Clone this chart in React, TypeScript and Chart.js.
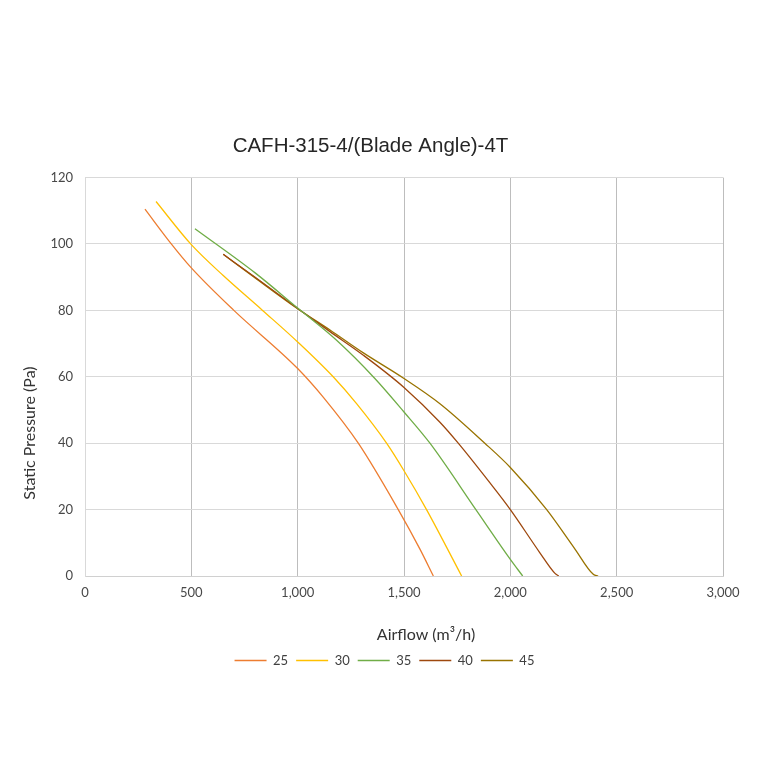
import { useEffect, useRef } from "react";
import { Chart, registerables } from "chart.js";

Chart.register(...registerables);

const seriesLabels = ["25", "30", "35", "40", "45"];
const seriesColors = ["#ED7D31", "#FFC000", "#70AD47", "#9E480E", "#997300"];

const airflow25 = [282, 400, 500, 700, 1000, 1121, 1285, 1473, 1575, 1638];
const pressure25 = [110.5, 100.5, 92.8, 80, 62.5, 53.8, 40, 20, 8.1, 0];

const airflow30 = [334, 500, 650, 835, 1000, 1167, 1277, 1418, 1500, 1606, 1771];
const pressure30 = [112.8, 99.8, 90.5, 80, 70.5, 60, 51.9, 40, 31.7, 20, 0];

const airflow35 = [517, 800, 1000, 1183, 1363, 1500, 1622, 1838, 2000, 2058];
const pressure35 = [104.6, 91.3, 80.7, 71, 59.5, 49.4, 40, 20, 5, 0];

const airflow40 = [650, 800, 1000, 1152, 1309, 1500, 1669, 1755, 1896, 2000, 2139, 2210, 2228];
const pressure40 = [96.9, 90, 80.6, 73.6, 66.5, 56.8, 46.3, 40, 28.7, 20, 7, 0.8, 0];

const airflow45 = [650, 800, 1000, 1152, 1309, 1500, 1669, 1880, 2000, 2171, 2300, 2390, 2413];
const pressure45 = [96.9, 89.8, 80.5, 74.1, 67.2, 59.5, 51.9, 40, 32.7, 20, 8.5, 0.5, 0];

const airflowSeries = [airflow25, airflow30, airflow35, airflow40, airflow45];
const pressureSeries = [pressure25, pressure30, pressure35, pressure40, pressure45];

const xTitle = "Airflow (m³/h)";
const yTitle = "Static Pressure (Pa)";

const tickFont = { family: "Lato", size: 13 };
const axisTitleFont = "16px Lato";

// Excel puts the axis titles and legend a bit off-centre, so draw/shift them by hand
const offsetPlugin = {
  id: "excelOffsets",
  afterLayout(chart: any) {
    if (chart.legend) {
      chart.legend.left += 14;
      chart.legend.right += 14;
    }
  },
  afterDraw(chart: any) {
    const { ctx } = chart;
    ctx.save();
    ctx.fillStyle = "#333";
    ctx.font = axisTitleFont;
    ctx.textAlign = "center";
    ctx.textBaseline = "middle";
    ctx.fillText(xTitle, 426, 635);
    ctx.translate(30, 433);
    ctx.rotate(-Math.PI / 2);
    ctx.fillText(yTitle, 0, 0);
    ctx.restore();
  },
};

export default function App() {
  const chartRef = useRef<HTMLCanvasElement>(null);

  useEffect(() => {
    document.body.style.margin = "0";
    if (!chartRef.current) return;

    const datasets = seriesLabels.map((label, i) => ({
      label,
      data: airflowSeries[i].map((x, j) => ({ x, y: pressureSeries[i][j] })),
      borderColor: seriesColors[i],
      backgroundColor: seriesColors[i],
      borderWidth: 1.3,
      pointRadius: 0,
      cubicInterpolationMode: "monotone" as const,
      fill: false,
    }));

    const chart = new Chart(chartRef.current, {
      type: "line",
      data: { datasets },
      plugins: [offsetPlugin],
      options: {
        animation: false,
        responsive: false,
        layout: { padding: { left: 18, right: 37, top: 134, bottom: 83 } },
        plugins: {
          title: {
            display: true,
            text: "CAFH-315-4/(Blade Angle)-4T",
            color: "#262626",
            font: { family: "Liberation Sans", size: 20.5, weight: "normal" },
            padding: { top: 0, bottom: 19 },
          },
          legend: {
            position: "bottom",
            labels: {
              usePointStyle: true,
              pointStyle: "line",
              pointStyleWidth: 32,
              boxHeight: 12,
              padding: 8,
              color: "#404040",
              font: tickFont,
            },
          },
          tooltip: { enabled: false },
        },
        scales: {
          x: {
            type: "linear",
            min: 0,
            max: 3000,
            afterFit: (scale) => {
              scale.height = 70;
              scale.paddingLeft = 0;
              scale.paddingRight = 0;
            },
            ticks: {
              stepSize: 500,
              padding: 9,
              color: "#484848",
              font: tickFont,
              maxRotation: 0,
              callback: (v) => Number(v).toLocaleString("en-US"),
            },
            grid: { color: "#BDBDBD", drawTicks: false },
            border: { color: "#D0D0D0" },
          },
          y: {
            min: 0,
            max: 120,
            afterFit: (scale) => {
              scale.width = 67;
              scale.paddingTop = 0;
              scale.paddingBottom = 0;
            },
            ticks: {
              stepSize: 20,
              padding: 12,
              color: "#484848",
              font: tickFont,
            },
            grid: { color: "#D9D9D9", drawTicks: false },
            border: { color: "#D9D9D9" },
          },
        },
      },
    });

    return () => {
      chart.destroy();
    };
  }, []);

  return <canvas ref={chartRef} width={760} height={760} />;
}
